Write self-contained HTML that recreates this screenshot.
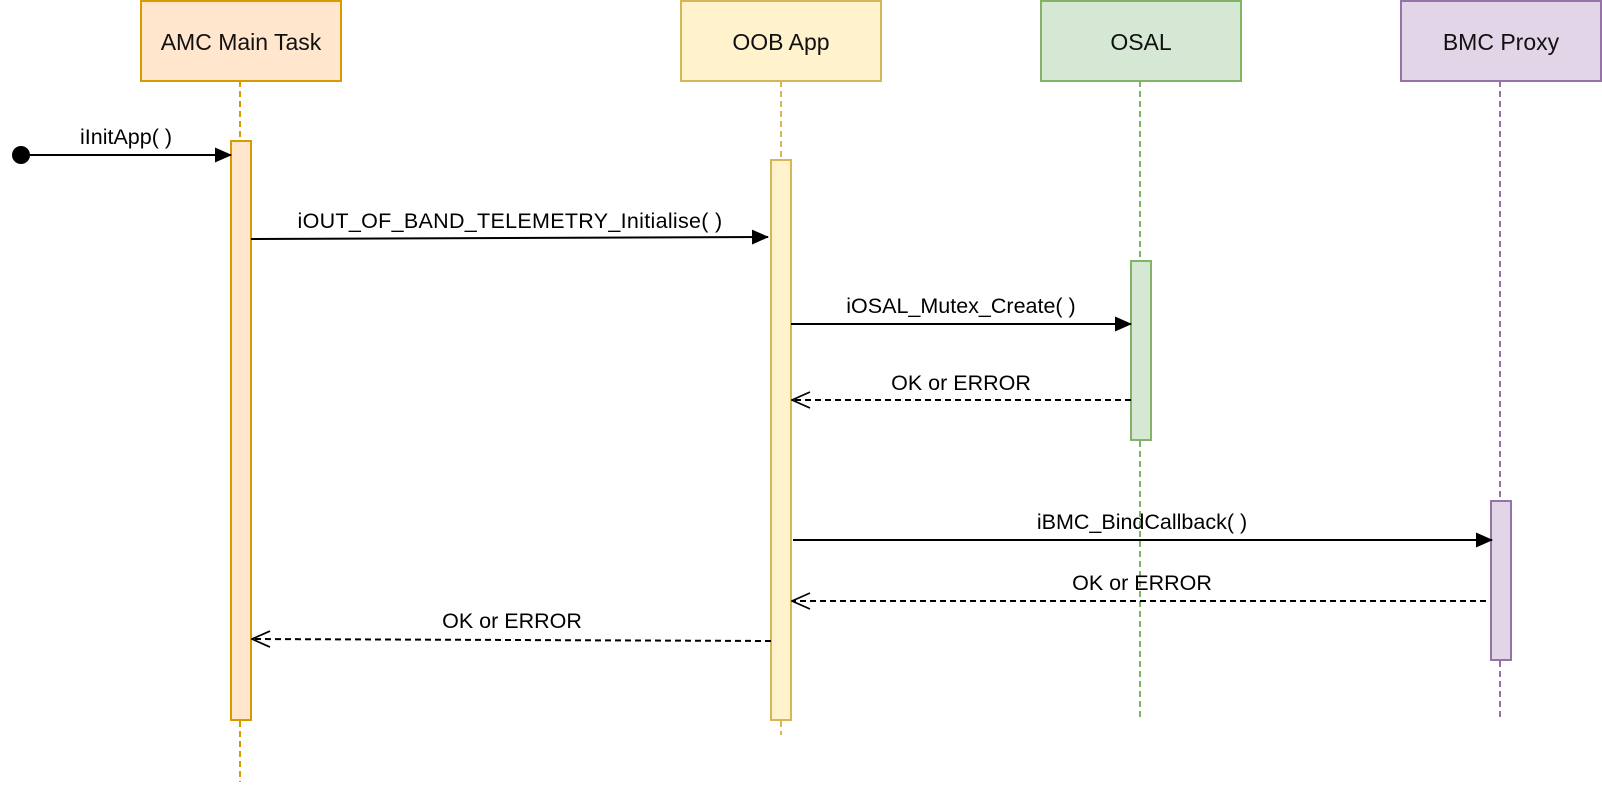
<!DOCTYPE html>
<html><head><meta charset="utf-8"><style>
html,body{margin:0;padding:0;background:#fff;}
svg text{font-family:"Liberation Sans",Arial,sans-serif;}
</style></head><body>
<svg width="1602" height="782" xmlns="http://www.w3.org/2000/svg">
<defs>
<marker id="fa" markerWidth="17" markerHeight="15" refX="16" refY="7.5" orient="auto" markerUnits="userSpaceOnUse"><path d="M0,0 L17,7.5 L0,15 Z" fill="#000"/></marker>
<marker id="oa" markerWidth="20" markerHeight="18" refX="19" refY="9" orient="auto" markerUnits="userSpaceOnUse"><path d="M1,1 L19,9 L1,17" fill="none" stroke="#000" stroke-width="1.7"/></marker>
</defs>
<line x1="240" y1="81" x2="240" y2="782" stroke="#d79b00" stroke-width="2" stroke-dasharray="6,4"/>
<line x1="781" y1="81" x2="781" y2="735" stroke="#d6b656" stroke-width="2" stroke-dasharray="6,4"/>
<line x1="1140" y1="81" x2="1140" y2="720" stroke="#82b366" stroke-width="2" stroke-dasharray="6,4"/>
<line x1="1500" y1="81" x2="1500" y2="720" stroke="#9673a6" stroke-width="2" stroke-dasharray="6,4"/>
<rect x="141" y="1" width="200" height="80" fill="#ffe6cc" stroke="#d79b00" stroke-width="2"/>
<text x="241" y="50" font-size="23" text-anchor="middle" fill="#111">AMC Main Task</text>
<rect x="681" y="1" width="200" height="80" fill="#fff2cc" stroke="#d6b656" stroke-width="2"/>
<text x="781" y="50" font-size="23" text-anchor="middle" fill="#111">OOB App</text>
<rect x="1041" y="1" width="200" height="80" fill="#d5e8d4" stroke="#82b366" stroke-width="2"/>
<text x="1141" y="50" font-size="23" text-anchor="middle" fill="#111">OSAL</text>
<rect x="1401" y="1" width="200" height="80" fill="#e1d5e7" stroke="#9673a6" stroke-width="2"/>
<text x="1501" y="50" font-size="23" text-anchor="middle" fill="#111">BMC Proxy</text>
<rect x="231" y="141" width="20" height="579" fill="#ffe6cc" stroke="#d79b00" stroke-width="2"/>
<rect x="771" y="160" width="20" height="560" fill="#fff2cc" stroke="#d6b656" stroke-width="2"/>
<rect x="1131" y="261" width="20" height="179" fill="#d5e8d4" stroke="#82b366" stroke-width="2"/>
<rect x="1491" y="501" width="20" height="159" fill="#e1d5e7" stroke="#9673a6" stroke-width="2"/>
<circle cx="21" cy="155" r="9" fill="#000"/>
<line x1="21" y1="155" x2="231" y2="155" stroke="#000" stroke-width="2" marker-end="url(#fa)"/>
<text x="126" y="144" font-size="21.5" text-anchor="middle">iInitApp( )</text>
<line x1="251" y1="239" x2="768" y2="237" stroke="#000" stroke-width="2" marker-end="url(#fa)"/>
<text x="510" y="228" font-size="21.5" letter-spacing="0.3" text-anchor="middle">iOUT_OF_BAND_TELEMETRY_Initialise( )</text>
<line x1="791" y1="324" x2="1131" y2="324" stroke="#000" stroke-width="2" marker-end="url(#fa)"/>
<text x="961" y="313" font-size="21.5" text-anchor="middle">iOSAL_Mutex_Create( )</text>
<line x1="1131" y1="400" x2="792" y2="400" stroke="#000" stroke-width="2" stroke-dasharray="6,4" marker-end="url(#oa)"/>
<text x="961" y="390" font-size="21.5" text-anchor="middle">OK or ERROR</text>
<line x1="793" y1="540" x2="1492" y2="540" stroke="#000" stroke-width="2" marker-end="url(#fa)"/>
<text x="1142" y="529" font-size="21.5" text-anchor="middle">iBMC_BindCallback( )</text>
<line x1="1486" y1="601" x2="792" y2="601" stroke="#000" stroke-width="2" stroke-dasharray="6,4" marker-end="url(#oa)"/>
<text x="1142" y="590" font-size="21.5" text-anchor="middle">OK or ERROR</text>
<line x1="771" y1="641" x2="252" y2="639" stroke="#000" stroke-width="2" stroke-dasharray="6,4" marker-end="url(#oa)"/>
<text x="512" y="628" font-size="21.5" text-anchor="middle">OK or ERROR</text>
</svg>
</body></html>
